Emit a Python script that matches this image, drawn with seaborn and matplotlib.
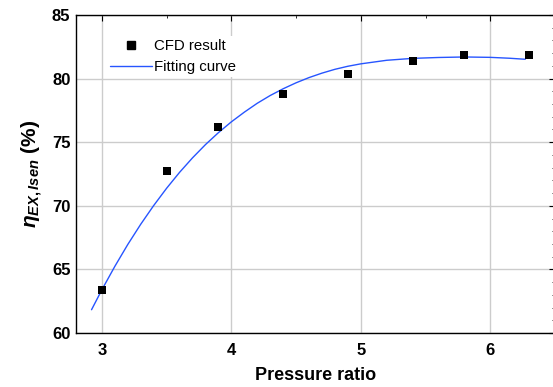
import numpy as np
import pandas as pd
import seaborn as sns
import matplotlib.pyplot as plt
from matplotlib.lines import Line2D
from matplotlib.ticker import MultipleLocator

# CFD points
pressure_ratio = [3.0, 3.5, 3.9, 4.4, 4.9, 5.4, 5.8, 6.3]
efficiency = [63.4, 72.7, 76.2, 78.8, 80.4, 81.4, 81.85, 81.85]

# fitting curve
fit_x = [2.92, 3.0, 3.1, 3.2, 3.3, 3.4, 3.5, 3.6, 3.7, 3.8, 3.9, 4.0, 4.1, 4.2,
         4.3, 4.4, 4.5, 4.6, 4.7, 4.8, 4.9, 5.0, 5.2, 5.4, 5.6, 5.8, 6.0,
         6.15, 6.27]
fit_y = [61.83, 63.4, 65.24, 66.96, 68.55, 70.02, 71.38, 72.63, 73.77, 74.81,
         75.75, 76.6, 77.36, 78.06, 78.67, 79.2, 79.67, 80.08, 80.43, 80.73,
         80.97, 81.16, 81.44, 81.59, 81.66, 81.7, 81.67, 81.6, 81.52]

sns.set_theme(style="white")
plt.rcParams["font.family"] = ["Liberation Sans", "DejaVu Sans"]
plt.rcParams["mathtext.fontset"] = "custom"
plt.rcParams["mathtext.it"] = "Liberation Sans:italic:bold"
plt.rcParams["mathtext.rm"] = "Liberation Sans:bold"
plt.rcParams["text.color"] = "black"
plt.rcParams["axes.labelcolor"] = "black"
plt.rcParams["xtick.color"] = "black"
plt.rcParams["ytick.color"] = "black"

fig = plt.figure(figsize=(5.53, 3.87), dpi=100)
ax = fig.add_axes([76 / 553, 54 / 387, 479 / 553, 318 / 387])

pts = pd.DataFrame({"x": pressure_ratio, "y": efficiency})
fit = pd.DataFrame({"x": fit_x, "y": fit_y})

sns.lineplot(data=fit, x="x", y="y", ax=ax, color="#2755ff", lw=1.0, zorder=3)
sns.scatterplot(data=pts, x="x", y="y", ax=ax, marker="s", s=30, color="black",
                edgecolor="black", linewidth=0, zorder=4)

ax.set_xlim(2.8, 6.5)
ax.set_ylim(60, 85)
ax.xaxis.set_major_locator(MultipleLocator(1))
ax.xaxis.set_minor_locator(MultipleLocator(0.5))
ax.yaxis.set_major_locator(MultipleLocator(5))
ax.yaxis.set_minor_locator(MultipleLocator(1))
ax.grid(True, which="major", color="#cccccc", lw=1.0)
ax.set_axisbelow(True)

ax.tick_params(which="both", direction="in", top=True, right=True, color="black")
ax.tick_params(which="major", length=4, width=0.8, labelsize=12)
ax.tick_params(which="minor", length=2.5, width=0.6)
ax.tick_params(axis="x", which="major", pad=7)
ax.tick_params(axis="y", which="major", pad=4)
for lab in ax.get_xticklabels() + ax.get_yticklabels():
    lab.set_fontweight("bold")
for sp in ax.spines.values():
    sp.set_color("black")
    sp.set_linewidth(1.0)

ax.set_xlabel("Pressure ratio", fontsize=13, fontweight="bold", labelpad=7)
ax.set_ylabel(r"$\eta_{EX,Isen}$ (%)", fontsize=15, fontweight="bold", labelpad=5)

handles = [
    Line2D([], [], marker="s", color="black", ls="none", markersize=5.5),
    Line2D([], [], color="#2755ff", lw=1.0),
]
leg = ax.legend(handles, ["CFD result", "Fitting curve"], loc="upper left",
                bbox_to_anchor=(0.05, 0.958), frameon=True, fontsize=10.8,
                handlelength=2.8, handletextpad=0.1, borderpad=0.2,
                labelspacing=0.5)
leg.get_frame().set_edgecolor("none")
leg.get_frame().set_facecolor("white")
leg.get_frame().set_alpha(1)

fig.savefig("out.png", dpi=100)
